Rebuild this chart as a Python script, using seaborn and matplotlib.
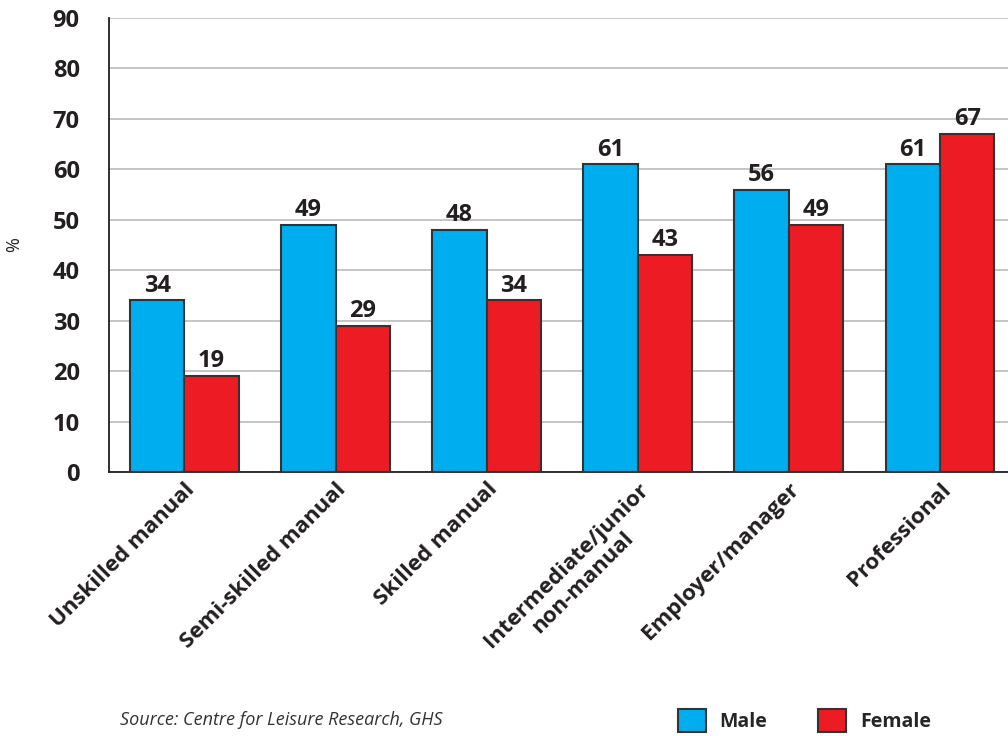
import numpy as np
import pandas as pd
import seaborn as sns
import matplotlib.pyplot as plt
from matplotlib.patches import Patch

categories = ['Unskilled manual', 'Semi-skilled manual', 'Skilled manual',
              'Intermediate/junior\nnon-manual', 'Employer/manager', 'Professional']
male = [34, 49, 48, 61, 56, 61]
female = [19, 29, 34, 43, 49, 67]
series = ['Male', 'Female']
colors = ['#00AEEF', '#ED1C24']

df = pd.DataFrame({
    'category': categories * 2,
    'sex': ['Male'] * len(categories) + ['Female'] * len(categories),
    'value': male + female,
})

sns.set_style('white')
plt.rcParams['font.family'] = ['Open Sans', 'DejaVu Sans']

fig = plt.figure(figsize=(10.08, 7.36), dpi=100)
ax = fig.add_axes([0.108, 0.3587, 0.892, 0.6168])

sns.barplot(data=df, x='category', y='value', hue='sex', hue_order=series,
            palette=colors, width=0.72, gap=0, edgecolor='#333333', linewidth=1.5,
            saturation=1, legend=False, ax=ax, zorder=3)

for cont in ax.containers:
    ax.bar_label(cont, fmt='%d', padding=2, fontsize=17, fontweight='bold', color='#231f20')

ax.set_ylim(0, 90)
ax.set_xlim(-0.5, 5.45)
ax.set_yticks(range(0, 91, 10))
ax.yaxis.grid(True, color='#bbbbbb', linewidth=1.2, zorder=0)
ax.set_axisbelow(True)
for s in ['top', 'right']:
    ax.spines[s].set_visible(False)
ax.spines['left'].set_color('#231f20')
ax.spines['bottom'].set_color('#231f20')
ax.spines['left'].set_linewidth(1.3)
ax.spines['bottom'].set_linewidth(1.3)
ax.tick_params(axis='y', length=15, width=1.5, color='#333333', labelsize=17, pad=6)
ax.tick_params(axis='x', length=0, pad=5)
for lab in ax.get_yticklabels():
    lab.set_fontweight('bold')
    lab.set_color('#231f20')

ax.set_xticks(range(len(categories)))
ax.set_xticklabels(categories, rotation=45, ha='right', rotation_mode='anchor',
                   fontsize=16, fontweight='bold', color='#231f20', multialignment='center')
ax.set_xlabel('')
ax.set_ylabel('%', fontsize=13, color='#231f20')
ax.yaxis.set_label_coords(-0.095, 0.5)

fig.text(0.119, 0.015, 'Source: Centre for Leisure Research, GHS', fontsize=13,
         style='italic', color='#333333')

handles = [Patch(facecolor=c, edgecolor='#333333', linewidth=1.5) for c in colors]
fig.legend(handles, series, loc='lower left', bbox_to_anchor=(0.655, -0.018), ncol=2,
           frameon=False, handlelength=1.45, handleheight=1.45, columnspacing=2.6,
           handletextpad=0.7, prop={'size': 14, 'weight': 'bold'})

fig.savefig('out.png', dpi=100)
